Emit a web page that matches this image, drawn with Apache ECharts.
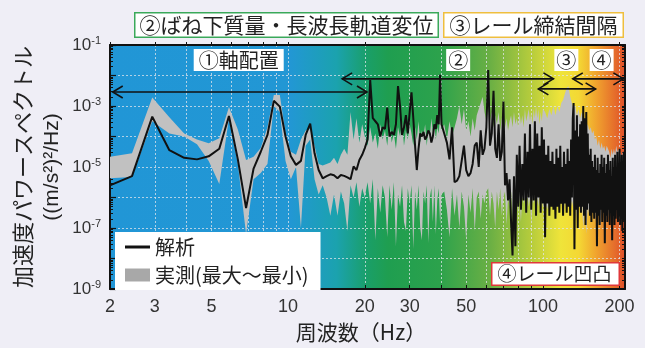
<!DOCTYPE html>
<html>
<head>
<meta charset="utf-8">
<script src="https://cdn.jsdelivr.net/npm/echarts@6/dist/echarts.min.js"></script>
<style>
  html, body { margin: 0; padding: 0; background: #efeef6; }
  #chart { width: 645px; height: 348px; }
</style>
</head>
<body>
<div id="chart"></div>
<script>
// Analysis result: frequency (Hz) and log10 of PSD ((m/s²)²/Hz)
const analysisFreqHz = [
  2.0, 2.44, 2.93, 3.42, 3.91, 4.39, 4.88, 5.37, 5.86, 6.35, 6.84, 7.32, 7.81, 8.3, 8.79, 9.28, 9.77,
  10.25, 10.74, 11.23, 11.72, 12.21, 12.7, 13.18, 13.67, 14.16, 14.65, 15.14, 15.63, 16.11, 16.6, 17.09,
  17.58, 18.07, 18.55, 19.04, 19.53, 20.0,
  20.5, 21, 21.5, 22, 22.5, 23, 23.5, 24, 24.5, 25, 25.5, 26, 26.5, 27, 27.5, 28, 28.5, 29, 29.5, 30,
  30.5, 31, 31.5, 32, 32.5, 33, 33.5, 34, 34.5, 35, 35.5, 36, 36.5, 37, 37.5, 38, 38.5, 39, 39.5, 40,
  41, 42, 43, 44, 45, 46, 47, 48, 49, 50, 51, 52, 53, 54, 55, 56, 57, 58, 59, 60,
  61, 62, 63, 64, 65, 66, 67, 68, 69, 70, 71, 72, 73, 74, 75, 76, 77, 78, 79, 80,
  81, 82, 83, 84, 85, 86, 87, 88, 89, 90, 91, 92, 93, 94, 95, 96, 97, 98, 99, 100,
  101, 102, 103, 104, 105, 106, 107, 108, 109, 110, 111, 112, 113, 114, 115, 116, 117, 118, 119, 120,
  121, 122, 123, 124, 125, 126, 127, 128, 129, 130, 131, 132, 133, 134, 135, 136, 137, 138, 139, 140,
  141, 142, 143, 144, 145, 146, 147, 148, 149, 150, 151, 152, 153, 154, 155, 156, 157, 158, 159, 160,
  161, 162, 163, 164, 165, 166, 167, 168, 169, 170, 171, 172, 173, 174, 175, 176, 177, 178, 179, 180,
  181, 182, 183, 184, 185, 186, 187, 188, 189, 190, 191, 192, 193, 194, 195, 196, 197, 198, 199, 200,
  201, 202, 203, 204, 205, 206, 207, 208, 209, 210
];
const analysisLogPsd = [
  -5.6, -5.3, -3.35, -4.45, -4.7, -4.75, -4.65, -4.4, -3.33, -4.75, -6.35, -5.05, -4.5, -3.95, -2.83, -3.02, -4.0,
  -4.65, -4.93, -4.8, -3.95, -3.58, -4.55, -5.1, -5.37, -5.3, -5.24, -5.27, -5.37, -5.26, -5.29, -5.34,
  -5.4, -4.98, -5.1, -4.77, -4.6, -4.38,
  -4.1, -2.15, -3.4, -3.5, -3.6, -4.0, -3.7, -3.75, -3.05, -4.0, -3.85, -3.95, -3.6, -2.35, -3.0, -3.95, -3.7, -3.3, -3.9, -3.2,
  -2.55, -3.4, -4.3, -5.1, -4.4, -3.9, -4.0, -3.85, -4.1, -4.0, -3.8, -3.9, -4.2, -4.0, -3.6, -3.75, -3.3, -3.6, -1.98, -3.6,
  -3.9, -4.2, -4.75, -3.7, -5.5, -5.45, -5.3, -4.8, -4.3, -5.1, -5.3, -5.2, -4.9, -4.3, -4.2, -5.0, -3.8, -4.6, -4.4, -3.7,
  -1.82, -4.3, -3.9, -2.5, -4.4, -4.7, -3.6, -4.8, -4.5, -2.85, -5.6, -5.2, -6.1, -5.4, -6.8, -7.9, -5.3, -7.6, -4.6, -6.3,
  -4.3, -6.4, -4.9, -6.1, -3.9, -6.5, -4.5, -6.0, -3.6, -6.4, -4.4, -6.1, -3.5, -6.6, -3.9, -6.0, -4.3, -6.5, -3.7, -6.2,
  -4.1, -7.3, -4.6, -6.2, -4.3, -6.6, -4.8, -6.3, -4.5, -6.4, -4.9, -6.7, -4.4, -6.3, -4.7, -6.5, -4.3, -6.2, -5.0, -6.6,
  -4.5, -6.2, -4.9, -6.5, -4.4, -6.3, -4.8, -6.6, -4.1, -6.0, -3.4, -2.9, -7.7, -3.8, -6.4, -3.3, -7.0, -4.0, -6.3, -3.6,
  -6.5, -3.5, -6.3, -3.0, -6.6, -3.4, -6.9, -3.2, -6.4, -3.9, -6.2, -4.6, -6.6, -4.4, -6.8, -4.8, -6.5, -5.0, -6.7, -4.6,
  -6.5, -5.1, -7.6, -4.7, -6.6, -5.2, -6.9, -4.9, -6.4, -4.6, -6.8, -5.0, -6.5, -4.7, -7.5, -5.2, -6.6, -4.9, -6.8, -4.6,
  -6.4, -5.1, -6.9, -4.8, -6.5, -5.3, -7.4, -4.7, -6.6, -5.0, -6.9, -4.6, -6.7, -5.2, -6.4, -4.5, -6.8, -4.9, -6.6, -4.4,
  -6.9, -5.0, -6.5, -4.6, -7.1, -4.8, -6.6, -4.5, -6.8, -5.0
];

// Field measurement envelope: frequency (Hz), log10 of maximum and minimum PSD
const measuredFreqHz = [
  2.0, 2.44, 2.93, 3.42, 3.91, 4.39, 4.88, 5.37, 5.86, 6.35, 6.84, 7.32, 7.81, 8.3, 8.79, 9.28, 9.77,
  10.25, 10.74, 11.23, 11.72, 12.21, 12.7, 13.18, 13.67, 14.16, 14.65, 15.14, 15.63, 16.11, 16.6, 17.09,
  17.58, 18.07, 18.55, 19.04, 19.53, 20.0,
  20.5, 21, 21.5, 22, 22.5, 23, 23.5, 24, 24.5, 25, 25.5, 26, 26.5, 27, 27.5, 28, 28.5, 29, 29.5, 30,
  30.5, 31, 31.5, 32, 32.5, 33, 33.5, 34, 34.5, 35, 35.5, 36, 36.5, 37, 37.5, 38, 38.5, 39, 39.5, 40,
  41, 42, 43, 44, 45, 46, 47, 48, 49, 50, 51, 52, 53, 54, 55, 56, 57, 58, 59, 60,
  61, 62, 63, 64, 65, 66, 67, 68, 69, 70, 71, 72, 73, 74, 75, 76, 77, 78, 79, 80,
  81, 82, 83, 84, 85, 86, 87, 88, 89, 90, 91, 92, 93, 94, 95, 96, 97, 98, 99, 100,
  102, 104, 106, 108, 110, 112, 114, 116, 118, 120, 122, 124, 126, 128, 130, 132, 134, 136, 138, 140,
  142, 144, 146, 148, 150, 152, 154, 156, 158, 160, 162, 164, 166, 168, 170, 172, 174, 176, 178, 180,
  182, 184, 186, 188, 190, 192, 194, 196, 198, 200, 202, 204, 206, 208, 210
];
const measuredLogMax = [
  -4.66, -4.55, -2.72, -3.37, -3.9, -4.1, -4.22, -4.06, -3.03, -3.77, -4.77, -4.66, -4.38, -3.7, -2.64, -2.64, -3.9,
  -4.5, -4.6, -4.1, -3.8, -3.75, -4.3, -4.9, -4.95, -4.9, -4.85, -4.7, -4.9, -4.6, -4.4, -4.6,
  -3.2, -4.1, -3.4, -4.2, -3.6, -4.0,
  -4.3, -3.7, -4.2, -3.9, -4.4, -3.6, -4.1, -3.8, -4.3, -3.5, -4.2, -3.9, -4.4, -3.7, -4.0, -3.5, -4.3, -3.8, -4.1, -3.6,
  -3.9, -4.3, -3.7, -4.1, -3.5, -4.2, -3.8, -4.0, -3.6, -4.3, -3.8, -4.0, -3.4, -3.9, -3.6, -4.1, -3.7, -3.9, -3.3, -3.8,
  -3.6, -4.1, -3.5, -4.0, -3.7, -3.4, -3.0, -3.6, -3.1, -3.8, -3.5, -4.0, -3.4, -3.8, -3.3, -3.1, -2.9, -2.7, -3.2, -3.5,
  -3.0, -3.5, -3.2, -3.7, -3.3, -3.6, -3.2, -3.8, -3.4, -3.3, -3.7, -3.4, -3.8, -3.5, -3.3, -3.7, -3.2, -3.6, -3.4, -3.7,
  -3.2, -3.6, -3.3, -3.7, -3.1, -3.5, -3.3, -3.1, -3.5, -3.2, -3.6, -3.1, -3.4, -3.0, -3.4, -3.1, -3.6, -3.2, -3.5, -3.1,
  -3.2, -3.4, -3.1, -3.3, -3.0, -3.3, -3.0, -3.2, -2.9, -2.8, -2.6, -2.4, -2.35, -2.7, -2.9, -3.1, -3.0, -3.3, -3.1, -3.4,
  -3.2, -3.5, -3.4, -3.7, -3.6, -3.8, -3.7, -3.9, -3.8, -4.1, -4.0, -4.3, -4.1, -4.4, -4.2, -4.4, -4.3, -4.5, -4.3, -4.4,
  -4.5, -4.7, -4.4, -4.6, -4.4, -4.6, -4.3, -4.5, -4.4, -4.6, -4.5, -4.7, -4.5, -4.6, -4.7
];
const measuredLogMin = [
  -5.37, -5.33, -3.5, -3.9, -4.0, -4.25, -4.8, -5.56, -3.4, -4.9, -7.2, -5.4, -5.2, -4.9, -3.0, -3.2, -4.8,
  -5.4, -5.0, -7.0, -4.3, -4.1, -5.4, -5.9, -5.6, -6.0, -6.6, -5.9, -6.6, -5.8, -6.2, -7.1,
  -5.6, -6.0, -5.5, -6.3, -5.7, -6.0,
  -5.5, -6.2, -5.4, -7.4, -5.7, -6.5, -5.6, -6.0, -7.3, -5.6, -6.4, -5.5, -7.6, -5.9, -6.3, -5.6, -6.8, -7.1, -5.7, -6.2,
  -5.6, -7.7, -5.8, -6.4, -5.6, -7.0, -7.4, -5.8, -6.2, -5.6, -7.5, -6.0, -5.7, -6.8, -5.6, -7.2, -6.1, -5.7, -6.9, -5.9,
  -5.8, -6.4, -7.3, -5.7, -6.6, -5.9, -7.0, -5.8, -6.3, -7.4, -5.9, -6.5, -5.7, -7.1, -6.0, -5.8, -6.7, -5.9, -6.2, -5.8,
  -5.7, -6.6, -5.8, -6.2, -7.0, -5.8, -6.4, -5.7, -6.6, -6.0, -5.8, -6.9, -6.0, -6.3, -5.8, -6.7, -6.0, -6.3, -5.8, -6.5,
  -6.0, -6.8, -5.9, -6.2, -6.0, -6.6, -5.9, -6.3, -6.0, -6.9, -6.0, -6.2, -5.9, -6.7, -6.0, -6.3, -5.9, -6.6, -6.0, -6.3,
  -6.1, -6.4, -6.0, -6.3, -6.1, -6.5, -6.0, -6.2, -6.0, -6.6, -6.1, -6.3, -6.0, -6.5, -6.1, -6.4, -6.0, -6.7, -6.1, -6.4,
  -6.0, -7.0, -6.2, -7.2, -6.3, -6.6, -6.1, -6.5, -6.2, -6.8, -6.2, -6.6, -6.1, -7.0, -6.3, -6.6, -6.2, -7.3, -6.4, -6.7,
  -6.3, -6.6, -6.2, -6.9, -6.3, -6.6, -6.2, -6.8, -6.3, -6.6, -6.1, -6.9, -6.3, -6.6, -6.2
];

// Frequency ranges governed by each excitation source
const sourceRanges = [
  { label: '①軸配置', fromHz: 2.05, toHz: 20.4, labelHz: 6.4, levelLog: -2.54 },
  { label: '②', fromHz: 16.3, toHz: 110, labelHz: 46.5, levelLog: -2.11 },
  { label: '③', fromHz: 96, toHz: 161, labelHz: 123.6, levelLog: -2.44 },
  { label: '④', fromHz: 131, toHz: 207, labelHz: 170, levelLog: -2.11 }
];

// Axis ticks
const xTickLabels = [2, 3, 5, 10, 20, 30, 50, 100, 200];
const xMinorTicks = [2, 3, 4, 5, 6, 7, 8, 9, 10, 20, 30, 40, 50, 60, 70, 80, 90, 100, 200];
const yDecades = [-9, -8, -7, -6, -5, -4, -3, -2, -1];
const yLabelDecades = [-9, -7, -5, -3, -1];
const xRangeHz = [2, 210];

const lg = Math.log10;
const yMinor = [];
yDecades.slice(0, -1).forEach(d => { for (let k = 2; k <= 9; k++) yMinor.push(d + lg(k)); });

const chart = echarts.init(document.getElementById('chart'), null, { renderer: 'canvas' });

const tickFont = '"Liberation Sans", Arial, sans-serif';
const jpFont = '"Noto Sans CJK JP", "Noto Sans", sans-serif';
const gridLine = { show: true, lineStyle: { color: 'rgba(225,228,235,0.75)', width: 1, type: [2, 2] } };

const bgGradient = new echarts.graphic.LinearGradient(0, 0, 1, 0, [
  { offset: 0.00, color: '#2196d6' },
  { offset: 0.35, color: '#2297d4' },
  { offset: 0.44, color: '#1ba2ae' },
  { offset: 0.50, color: '#1a9f68' },
  { offset: 0.54, color: '#1f9e50' },
  { offset: 0.64, color: '#2ca24c' },
  { offset: 0.74, color: '#6cb044' },
  { offset: 0.82, color: '#b8cd3c' },
  { offset: 0.875, color: '#efe43a' },
  { offset: 0.91, color: '#f4d834' },
  { offset: 0.945, color: '#f0a22e' },
  { offset: 1.00, color: '#df4f2a' }
]);

const option = {
  backgroundColor: '#efeef6',
  animation: false,
  grid: {
    left: 110, right: 20, top: 45, bottom: 59,
    show: true, backgroundColor: bgGradient, borderWidth: 0
  },
  legend: {
    left: 115, top: 232, orient: 'vertical',
    backgroundColor: '#ffffff', borderRadius: 0,
    padding: [4, 12, 4, 10], itemGap: 6, itemWidth: 25, itemHeight: 13, itemTextGap: 5,
    textStyle: { fontSize: 20, fontFamily: jpFont, color: '#222', lineHeight: 22 },
    data: [
      { name: '解析', icon: 'path://M0,0 M0,5 L25,5 L25,8 L0,8 Z M25,13', itemStyle: { color: '#111' } },
      { name: '実測(最大～最小)', icon: 'rect', itemStyle: { color: '#a8a8a8' } }
    ]
  },
  xAxis: [
    {
      type: 'value', position: 'bottom',
      min: lg(xRangeHz[0]), max: lg(xRangeHz[1]),
      axisLine: { show: true, onZero: false, lineStyle: { color: '#111', width: 2 } },
      axisTick: { show: true, inside: true, length: 4, customValues: xMinorTicks.map(lg), lineStyle: { color: '#111', width: 1 } },
      axisLabel: {
        customValues: xTickLabels.map(lg), margin: 9,
        formatter: v => String(Math.round(Math.pow(10, v))),
        fontSize: 18, fontFamily: tickFont, color: '#333'
      },
      splitLine: gridLine
    },
    {
      type: 'value', position: 'top',
      min: lg(xRangeHz[0]), max: lg(xRangeHz[1]),
      axisLine: { show: true, onZero: false, lineStyle: { color: '#111', width: 2 } },
      axisTick: { show: true, inside: false, length: 3, customValues: xMinorTicks.map(lg), lineStyle: { color: '#111' } },
      axisLabel: { show: false },
      splitLine: { show: false }
    }
  ],
  yAxis: [
    {
      type: 'value', position: 'left', min: -9, max: -1, interval: 1,
      axisLine: { show: true, onZero: false, lineStyle: { color: '#111', width: 2 } },
      axisTick: { show: true, inside: true, length: 6, lineStyle: { color: '#111', width: 1.2 } },
      axisLabel: {
        margin: 9, customValues: yLabelDecades,
        formatter: v => '{b|10}{s|' + v + '}',
        rich: {
          b: { fontSize: 17, fontFamily: tickFont, color: '#333' },
          s: { fontSize: 11, fontFamily: tickFont, color: '#333', verticalAlign: 'top', padding: [0, 0, 9, 0] }
        }
      },
      splitLine: gridLine
    },
    {
      type: 'value', position: 'left', min: -9, max: -1,
      axisLine: { show: false },
      axisTick: { show: true, inside: true, length: 3, customValues: yMinor, lineStyle: { color: '#111' } },
      axisLabel: { show: false }, splitLine: { show: false }
    },
    {
      type: 'value', position: 'right', min: -9, max: -1,
      axisLine: { show: true, onZero: false, lineStyle: { color: '#111', width: 2 } },
      axisTick: { show: true, inside: true, length: 3, customValues: yMinor.concat(yDecades), lineStyle: { color: '#111' } },
      axisLabel: { show: false }, splitLine: { show: false }
    }
  ],
  series: [
    {
      name: '実測(最大～最小)', type: 'custom', coordinateSystem: 'cartesian2d',
      xAxisIndex: 0, yAxisIndex: 0, clip: true, z: 2,
      itemStyle: { color: '#a8a8a8' },
      encode: { x: 0, y: [1, 2] },
      data: measuredFreqHz.map((f, i) => [lg(f), measuredLogMin[i], measuredLogMax[i]]),
      renderItem(params, api) {
        if (params.dataIndexInside !== 0) return null;
        const n = params.dataInsideLength;
        const upper = [], lower = [];
        for (let j = 0; j < n; j++) {
          const x = api.value(0, j);
          upper.push(api.coord([x, api.value(2, j)]));
          lower.push(api.coord([x, api.value(1, j)]));
        }
        return {
          type: 'polygon',
          shape: { points: upper.concat(lower.reverse()) },
          style: { fill: '#c1c1c1', stroke: null }
        };
      }
    },
    {
      name: '解析', type: 'line', xAxisIndex: 0, yAxisIndex: 0, z: 3,
      symbol: 'none', showSymbol: false, clip: true,
      lineStyle: { color: '#111', width: 2 },
      itemStyle: { color: '#111' },
      data: analysisFreqHz.map((f, i) => [lg(f), analysisLogPsd[i]])
    },
    {
      name: 'ranges', type: 'custom', coordinateSystem: 'cartesian2d',
      xAxisIndex: 0, yAxisIndex: 0, clip: false, z: 5, silent: true,
      data: sourceRanges.map(r => [lg(r.fromHz), lg(r.toHz), r.levelLog, lg(r.labelHz)]),
      renderItem(params, api) {
        const y = api.value(2);
        const a = api.coord([api.value(0), y]);
        const b = api.coord([api.value(1), y]);
        const lx = api.coord([api.value(3), y])[0];
        const hl = 10, hw = 6;
        const st = { stroke: '#111', lineWidth: 1.6, fill: null };
        const label = sourceRanges[params.dataIndex].label;
        return {
          type: 'group',
          children: [
            { type: 'line', shape: { x1: a[0], y1: a[1], x2: b[0], y2: b[1] }, style: st },
            { type: 'polyline', shape: { points: [[a[0] + hl, a[1] - hw], [a[0], a[1]], [a[0] + hl, a[1] + hw]] }, style: st },
            { type: 'polyline', shape: { points: [[b[0] - hl, b[1] - hw], [b[0], b[1]], [b[0] - hl, b[1] + hw]] }, style: st },
            {
              type: 'text', x: lx, y: params.coordSys.y + 4,
              style: {
                text: label, fontSize: 20, fontFamily: jpFont, fill: '#222',
                align: 'center', verticalAlign: 'top',
                backgroundColor: '#fff', padding: [1, label.length > 1 ? 5 : 2, 1, label.length > 1 ? 5 : 2]
              }
            }
          ]
        };
      }
    }
  ],
  graphic: [
    {
      type: 'text', left: 134, top: 12, z: 10,
      style: {
        text: '②ばね下質量・長波長軌道変位', fontSize: 21, fontFamily: jpFont, fill: '#222',
        backgroundColor: '#fff', borderColor: '#3aa95a', borderWidth: 1.5, padding: [1, 4, 1, 4]
      }
    },
    {
      type: 'text', left: 443, top: 12, z: 10,
      style: {
        text: '③レール締結間隔', fontSize: 21, fontFamily: jpFont, fill: '#222',
        backgroundColor: '#fff', borderColor: '#efbf3e', borderWidth: 1.5, padding: [1, 5, 1, 5]
      }
    },
    {
      type: 'text', left: 491, top: 262, z: 10,
      style: {
        text: '④レール凹凸', fontSize: 19, fontFamily: jpFont, fill: '#222',
        backgroundColor: '#fff', borderColor: '#e0383a', borderWidth: 1.5, padding: [1, 7, 1, 5]
      }
    },
    {
      type: 'text', x: 23, y: 167, rotation: Math.PI / 2, z: 10,
      style: { text: '加速度パワースペクトル', fontSize: 22, fontFamily: jpFont, fill: '#222', align: 'center', verticalAlign: 'middle' }
    },
    {
      type: 'text', x: 52, y: 167, rotation: Math.PI / 2, z: 10,
      style: { text: '((m/s²)²/Hz)', fontSize: 21, fontFamily: tickFont, fill: '#222', align: 'center', verticalAlign: 'middle' }
    },
    {
      type: 'text', x: 361, y: 332, z: 10,
      style: { text: '周波数（Hz）', fontSize: 21, fontFamily: jpFont, fill: '#222', align: 'center', verticalAlign: 'middle' }
    }
  ]
};

chart.setOption(option);
</script>
</body>
</html>
